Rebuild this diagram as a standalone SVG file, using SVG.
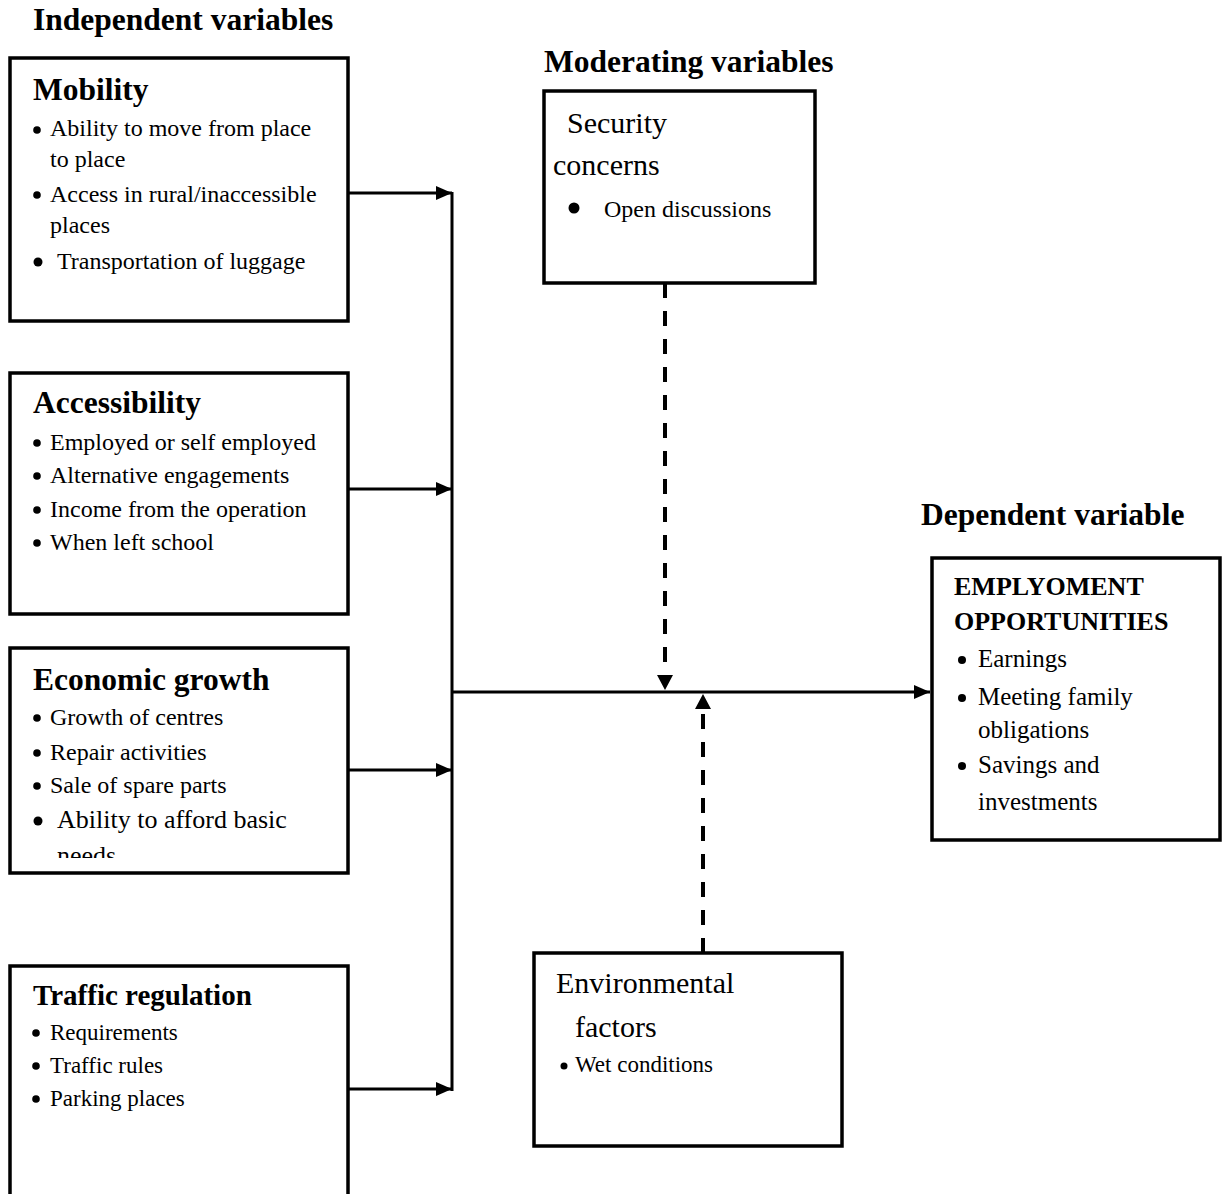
<svg xmlns="http://www.w3.org/2000/svg" width="1222" height="1194" viewBox="0 0 1222 1194">
<style>
text{font-family:"Liberation Serif","Times New Roman",serif;fill:#000}
.h{font-weight:bold;font-size:31.5px}
.t{font-weight:bold;font-size:31.5px}
.b{font-size:24px}
.box{fill:#fff;stroke:#000;stroke-width:3.5}
.ln{fill:none;stroke:#000;stroke-width:3}
.dash{fill:none;stroke:#000;stroke-width:4;stroke-dasharray:15 13}
.dot{fill:#000}
</style>
<defs>
<marker id="ah" markerUnits="userSpaceOnUse" markerWidth="16" markerHeight="14" refX="16" refY="7" orient="auto">
<path d="M0,0 L16,7 L0,14 Z" fill="#000"/>
</marker>
<marker id="ahd" markerUnits="userSpaceOnUse" markerWidth="16" markerHeight="16" refX="15" refY="8" orient="auto">
<path d="M0,0 L15,8 L0,16 Z" fill="#000"/>
</marker>
<clipPath id="econClip"><rect x="0" y="640" width="400" height="218"/></clipPath>
</defs>

<g id="headings">
<text class="h" x="33" y="30">Independent variables</text>
<text class="h" x="544" y="72">Moderating variables</text>
<text class="h" x="921" y="525">Dependent variable</text>
</g>

<g id="connectors">
<line class="ln" x1="452" y1="192" x2="452" y2="1091"/>
<line class="ln" x1="348" y1="193" x2="452" y2="193" marker-end="url(#ah)"/>
<line class="ln" x1="348" y1="489" x2="452" y2="489" marker-end="url(#ah)"/>
<line class="ln" x1="348" y1="770" x2="452" y2="770" marker-end="url(#ah)"/>
<line class="ln" x1="348" y1="1089" x2="452" y2="1089" marker-end="url(#ah)"/>
<line class="ln" x1="452" y1="692" x2="930" y2="692" marker-end="url(#ah)"/>
<line class="dash" x1="665" y1="283" x2="665" y2="676"/>
<path d="M657,675 L673,675 L665,690 Z" fill="#000"/>
<line class="dash" x1="703" y1="953" x2="703" y2="710"/>
<path d="M695,709 L711,709 L703,694 Z" fill="#000"/>
</g>

<g id="mobility">
<rect class="box" x="10" y="58" width="338" height="263"/>
<text class="t" x="33" y="100">Mobility</text>
<circle class="dot" cx="37" cy="130" r="3.8"/>
<text class="b" x="50" y="136">Ability to move from place</text>
<text class="b" x="50" y="167">to place</text>
<circle class="dot" cx="37" cy="195" r="3.8"/>
<text class="b" x="50" y="202">Access in rural/inaccessible</text>
<text class="b" x="50" y="233">places</text>
<circle class="dot" cx="38" cy="262" r="4.5"/>
<text class="b" x="57" y="269">Transportation of luggage</text>
</g>

<g id="accessibility">
<rect class="box" x="10" y="373" width="338" height="241"/>
<text class="t" x="33" y="413">Accessibility</text>
<circle class="dot" cx="37" cy="443" r="3.8"/>
<text class="b" x="50" y="450">Employed or self employed</text>
<circle class="dot" cx="37" cy="476" r="3.8"/>
<text class="b" x="50" y="483">Alternative engagements</text>
<circle class="dot" cx="37" cy="510" r="3.8"/>
<text class="b" x="50" y="517">Income from the operation</text>
<circle class="dot" cx="37" cy="543" r="3.8"/>
<text class="b" x="50" y="550">When left school</text>
</g>

<g id="economic-growth">
<rect class="box" x="10" y="648" width="338" height="225"/>
<text class="t" x="33" y="690">Economic growth</text>
<circle class="dot" cx="37" cy="718" r="3.8"/>
<text class="b" x="50" y="725">Growth of centres</text>
<circle class="dot" cx="37" cy="753" r="3.8"/>
<text class="b" x="50" y="760">Repair activities</text>
<circle class="dot" cx="37" cy="786" r="3.8"/>
<text class="b" x="50" y="793">Sale of spare parts</text>
<circle class="dot" cx="38" cy="821" r="4.5"/>
<g clip-path="url(#econClip)">
<text x="57" y="828" style="font-size:26px">Ability to afford basic</text>
<text x="57" y="864" style="font-size:26px">needs</text>
</g>
</g>

<g id="traffic-regulation">
<rect class="box" x="10" y="966" width="338" height="260"/>
<text x="33" y="1005" style="font-weight:bold;font-size:29px">Traffic regulation</text>
<circle class="dot" cx="36" cy="1033" r="3.8"/>
<text class="b" x="50" y="1040" style="font-size:23px">Requirements</text>
<circle class="dot" cx="36" cy="1066" r="3.8"/>
<text class="b" x="50" y="1073" style="font-size:23px">Traffic rules</text>
<circle class="dot" cx="36" cy="1099" r="3.8"/>
<text class="b" x="50" y="1106" style="font-size:23px">Parking places</text>
</g>

<g id="security-concerns">
<rect class="box" x="544" y="91" width="271" height="192"/>
<text x="567" y="133" style="font-size:30px">Security</text>
<text x="553" y="175" style="font-size:30px">concerns</text>
<circle class="dot" cx="574" cy="208" r="5.5"/>
<text class="b" x="604" y="217">Open discussions</text>
</g>

<g id="environmental-factors">
<rect class="box" x="534" y="953" width="308" height="193"/>
<text x="556" y="993" style="font-size:30px">Environmental</text>
<text x="575" y="1037" style="font-size:30px">factors</text>
<circle class="dot" cx="564" cy="1066" r="3.5"/>
<text class="b" x="575" y="1072" style="font-size:23px">Wet conditions</text>
</g>

<g id="employment-opportunities">
<rect class="box" x="932" y="558" width="288" height="282"/>
<text x="954" y="595" style="font-weight:bold;font-size:26px">EMPLYOMENT</text>
<text x="954" y="630" style="font-weight:bold;font-size:26px">OPPORTUNITIES</text>
<circle class="dot" cx="962" cy="660" r="4"/>
<text x="978" y="667" style="font-size:25px">Earnings</text>
<circle class="dot" cx="962" cy="698" r="4"/>
<text x="978" y="705" style="font-size:25px">Meeting family</text>
<text x="978" y="738" style="font-size:25px">obligations</text>
<circle class="dot" cx="962" cy="766" r="4"/>
<text x="978" y="773" style="font-size:25px">Savings and</text>
<text x="978" y="810" style="font-size:25px">investments</text>
</g>
</svg>
